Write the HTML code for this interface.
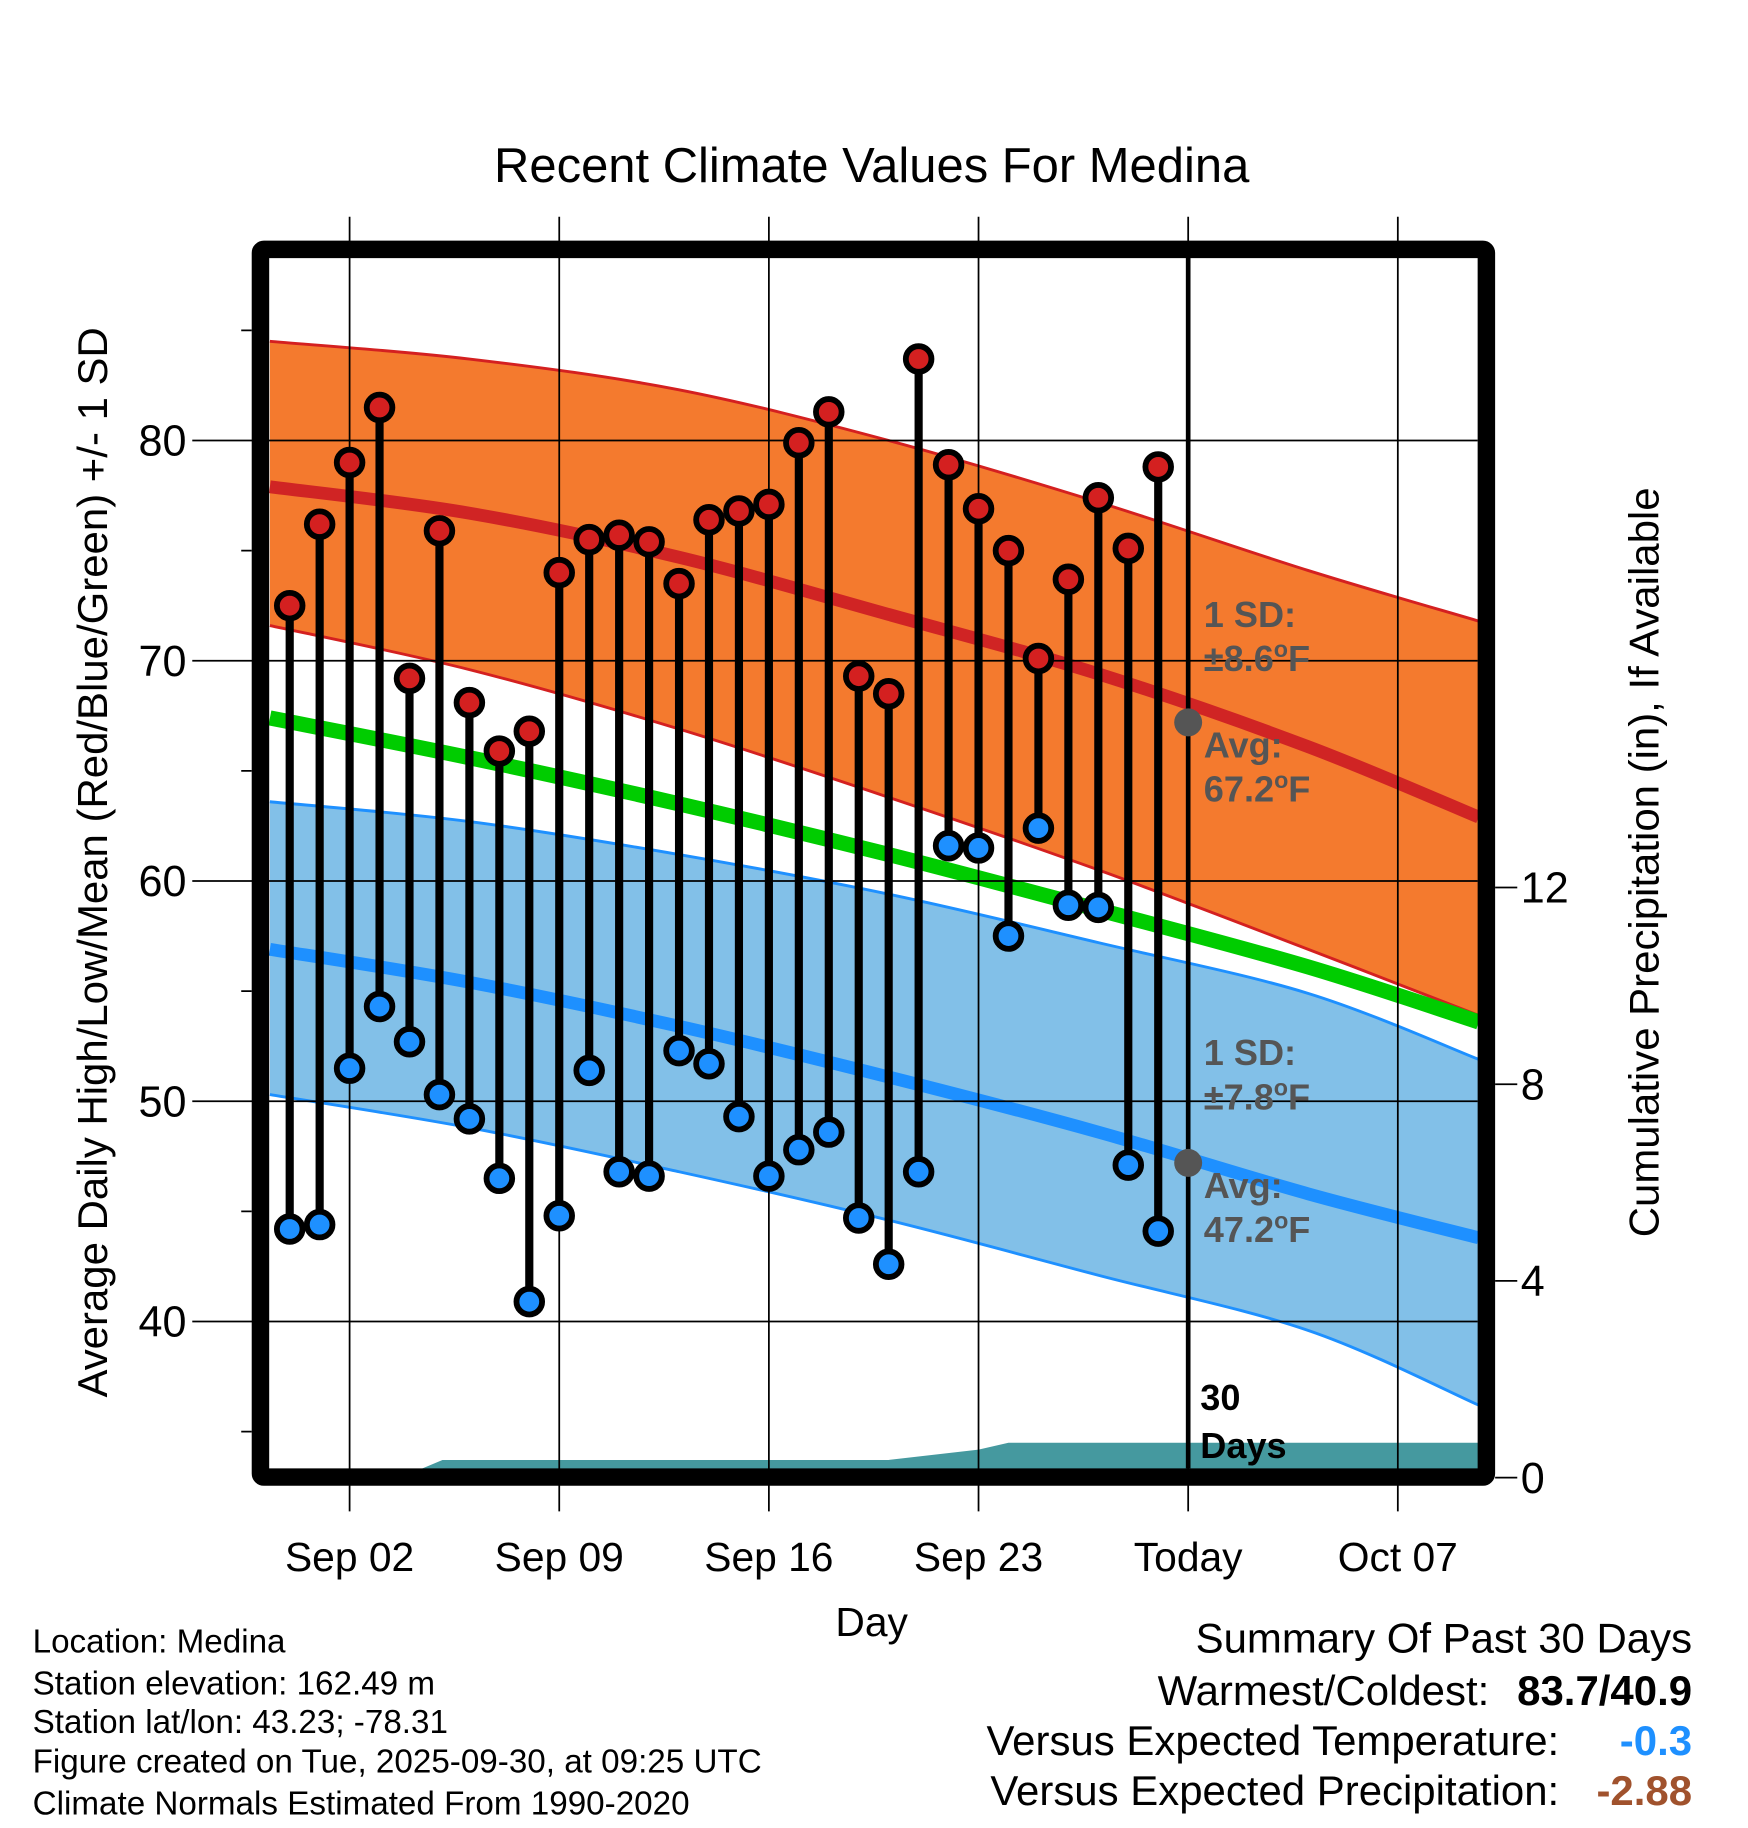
<!DOCTYPE html>
<html><head><meta charset="utf-8"><style>
html,body{margin:0;padding:0;background:#fff;}
svg{display:block;font-family:"Liberation Sans",Arial,sans-serif;}
</style></head><body>
<svg id="chart" width="1748" height="1828" viewBox="0 0 1500 1568.65" xmlns="http://www.w3.org/2000/svg">
<text x="748" y="156" font-size="42" text-anchor="middle">Recent Climate Values For Medina</text>
<g id="bands"></g>
<g id="grid"></g>
<g id="marks"></g>
<g id="axes"></g>
</svg>
<script>
// ---- data ----
const obsDays = [-1,0,1,2,3,4,5,6,7,8,9,10,11,12,13,14,15,16,17,18,19,20,21,22,23,24,25,26,27,28];
const highs = [72.5,76.2,79.0,81.5,69.2,75.9,68.1,65.9,66.8,74.0,75.5,75.7,75.4,73.5,76.4,76.8,77.1,79.9,81.3,69.3,68.5,83.7,78.9,76.9,75.0,70.1,73.7,77.4,75.1,78.8];
const lows = [44.2,44.4,51.5,54.3,52.7,50.3,49.2,46.5,40.9,44.8,51.4,46.8,46.6,52.3,51.7,49.3,46.6,47.8,48.6,44.7,42.6,46.8,61.6,61.5,57.5,62.4,58.9,58.8,47.1,44.1];
const normDays = [-1.66,5,12,19,26,33,38.7];
const highUpper = [84.5,83.7,82.3,80.0,77.2,74.1,71.8];
const highAvg = [77.9,76.7,74.7,72.1,69.4,66.1,62.9];
const highLower = [71.6,69.6,66.9,63.8,60.5,56.9,53.9];
const meanAvg = [67.4,65.6,63.5,61.2,58.7,56.1,53.6];
const lowUpper = [63.6,62.7,61.2,59.4,57.2,54.9,51.9];
const lowAvg = [56.9,55.4,53.4,51.1,48.6,45.8,43.8];
const lowLower = [50.3,48.8,46.8,44.6,42.1,39.6,36.2];
const precipDays = [-1.66,2.7,4.1,19,22,23,38.7];
const precipVals = [0,0,0.36,0.36,0.57,0.71,0.71];
const xTickDays = [1,8,15,22,29,36];
const xTickLabels = ["Sep 02","Sep 09","Sep 16","Sep 23","Today","Oct 07"];
const yTicks = [40,50,60,70,80];
const yMinor = [35,45,55,65,75,85];
const pTicks = [0,4,8,12];
const todayDay = 29;
const todayHighAvg = 67.2, todayLowAvg = 47.2;

// ---- axes functions ----
const L=231,R=1268,T=221,B=1260;
const X = d => 300 + (d-1)*25.7;
const Y = t => 378 + (80-t)*18.9;
const P = p => 1268 - p*42.2;
const NS="http://www.w3.org/2000/svg";
function mk(tag, attrs, parent){const e=document.createElementNS(NS,tag);for(const k in attrs)e.setAttribute(k,attrs[k]);parent.appendChild(e);return e;}
const bands=document.getElementById('bands'),grid=document.getElementById('grid'),marks=document.getElementById('marks'),axes=document.getElementById('axes');
function P2(days,vals,f){return days.map((d,i)=>[X(d),f(vals[i])]);}
function smooth(p,start){
  let s=start?('M'+p[0][0].toFixed(1)+','+p[0][1].toFixed(1)):('L'+p[0][0].toFixed(1)+','+p[0][1].toFixed(1));
  for(let i=0;i<p.length-1;i++){
    const p0=p[i-1]||p[i],p1=p[i],p2=p[i+1],p3=p[i+2]||p2;
    const c1=[p1[0]+(p2[0]-p0[0])/6,p1[1]+(p2[1]-p0[1])/6],c2=[p2[0]-(p3[0]-p1[0])/6,p2[1]-(p3[1]-p1[1])/6];
    s+='C'+c1.map(v=>v.toFixed(1)).join(',')+' '+c2.map(v=>v.toFixed(1)).join(',')+' '+p2.map(v=>v.toFixed(1)).join(',');
  }
  return s;
}
function bandPath(up,lo){return smooth(P2(normDays,up,Y),true)+smooth(P2(normDays,lo,Y).reverse(),false)+'Z';}

let e;
e=mk('path',{d:bandPath(highUpper,highLower),fill:'#f47a2e',stroke:'none'},bands);


e=mk('path',{d:bandPath(lowUpper,lowLower),fill:'#82c0e8',stroke:'none'},bands);


[[highUpper,'#d42020',2.5,'high-upper-line'],[highLower,'#d42020',2.5,'high-lower-line'],[lowUpper,'#1e90ff',2.5,'low-upper-line'],[lowLower,'#1e90ff',2.5,'low-lower-line'],[highAvg,'#d02424',11,'high-avg-line'],[lowAvg,'#1e90ff',11,'low-avg-line'],[meanAvg,'#00cc00',13,'mean-avg-line']].forEach(a=>{
  const l=mk('path',{d:smooth(P2(normDays,a[0],Y),true),fill:'none',stroke:a[1],'stroke-width':a[2]},bands);
  
  
});
e=mk('path',{d:'M'+X(precipDays[0])+','+P(0)+'L'+P2(precipDays,precipVals,P).map(q=>q.join(',')).join('L')+'L'+X(precipDays[precipDays.length-1])+','+P(0)+'Z',fill:'#45999f'},bands);



xTickDays.forEach(d=>{
  const g=mk('line',{x1:X(d),x2:X(d),y1:186,y2:1297,stroke:'#000','stroke-width':1.5},grid);
  
  
});
yTicks.forEach(t=>{
  const g=mk('line',{x1:165,x2:1268,y1:Y(t),y2:Y(t),stroke:'#000','stroke-width':1.5},grid);
  
  
});
yMinor.forEach(t=>{
  const g=mk('line',{x1:207,x2:216,y1:Y(t),y2:Y(t),stroke:'#000','stroke-width':1.5},grid);
  
  
});
pTicks.forEach(p=>{
  const g=mk('line',{x1:1283,x2:1302,y1:P(p),y2:P(p),stroke:'#000','stroke-width':1.5},grid);
  
  
});

e=mk('line',{x1:X(todayDay),x2:X(todayDay),y1:T,y2:B,stroke:'#000','stroke-width':4},marks);



obsDays.forEach((d,i)=>{
  const s=mk('line',{x1:X(d),x2:X(d),y1:Y(highs[i]),y2:Y(lows[i]),stroke:'#000','stroke-width':7},marks);
  
  
});
obsDays.forEach((d,i)=>{
  const h=mk('circle',{cx:X(d),cy:Y(highs[i]),r:11,fill:'#d42020',stroke:'#000','stroke-width':5},marks);
  
  
  const lw=mk('circle',{cx:X(d),cy:Y(lows[i]),r:11,fill:'#1e90ff',stroke:'#000','stroke-width':5},marks);
  
  
});
e=mk('circle',{cx:X(todayDay),cy:Y(todayHighAvg),r:12,fill:'#555'},marks);


e=mk('circle',{cx:X(todayDay),cy:Y(todayLowAvg),r:12,fill:'#555'},marks);



e=mk('rect',{x:223.5,y:214,width:1052,height:1053.5,fill:'none',stroke:'#000','stroke-width':15,rx:3},axes);



function txt(s,attrs,name,parent){const t=mk('text',attrs,parent||axes);t.textContent=s;return t;}
yTicks.forEach(t=>txt(String(t),{x:160,y:Y(t)+13,'font-size':37,'text-anchor':'end'},'y-tick-label'));
pTicks.forEach(p=>txt(String(p),{x:1305,y:P(p)+13,'font-size':37},'precip-tick-label'));
xTickDays.forEach((d,i)=>txt(xTickLabels[i],{x:X(d),y:1348,'font-size':35,'text-anchor':'middle'},'x-tick-label'));
txt('Day',{x:748,y:1404,'font-size':35,'text-anchor':'middle'},'x-axis-title');
txt('Average Daily High/Low/Mean (Red/Blue/Green) +/- 1 SD',{x:0,y:0,'font-size':36,'text-anchor':'middle',transform:'translate(92,740) rotate(-90)'},'y-axis-title');
txt('Cumulative Precipitation (in), If Available',{x:0,y:0,'font-size':36,'text-anchor':'middle',transform:'translate(1423,740) rotate(-90)'},'precip-axis-title');

function annot(a,y,name){
  const t=mk('text',{x:1033,y:y,'font-size':31,'font-weight':'bold',fill:'#555'},marks);
  
  
  t.textContent=a;
  const s=mk('tspan',{'font-size':20,dy:-12},t);s.textContent='o';
  const f=mk('tspan',{dy:12},t);f.textContent='F';
}
txt('1 SD:',{x:1033,y:538,'font-size':31,'font-weight':'bold',fill:'#555'},'sd-annotation',marks);
annot('±8.6',576,'sd-annotation');
txt('Avg:',{x:1033,y:650,'font-size':31,'font-weight':'bold',fill:'#555'},'avg-annotation',marks);
annot('67.2',688,'avg-annotation');
txt('1 SD:',{x:1033,y:914,'font-size':31,'font-weight':'bold',fill:'#555'},'sd-annotation',marks);
annot('±7.8',952,'sd-annotation');
txt('Avg:',{x:1033,y:1028,'font-size':31,'font-weight':'bold',fill:'#555'},'avg-annotation',marks);
annot('47.2',1066,'avg-annotation');
txt('30',{x:1030,y:1210,'font-size':31,'font-weight':'bold'},'days-label',marks);
txt('Days',{x:1030,y:1251,'font-size':31,'font-weight':'bold'},'days-label',marks);

['Location: Medina','Station elevation: 162.49 m','Station lat/lon: 43.23; -78.31','Figure created on Tue, 2025-09-30, at 09:25 UTC','Climate Normals Estimated From 1990-2020'].forEach((s,i)=>txt(s,{x:28,y:[1418,1454,1487,1521,1557][i],'font-size':28.5},'station-info-line'));
txt('Summary Of Past 30 Days',{x:1452,y:1418,'font-size':36,'text-anchor':'end'},'summary-title');
txt('Warmest/Coldest:',{x:1278,y:1463,'font-size':36,'text-anchor':'end'},'warmest-coldest-label');
txt('83.7/40.9',{x:1452,y:1463,'font-size':36,'font-weight':'bold','text-anchor':'end'},'warmest-coldest-value');
txt('Versus Expected Temperature:',{x:1338,y:1506,'font-size':36,'text-anchor':'end'},'temp-departure-label');
txt('-0.3',{x:1452,y:1506,'font-size':36,'font-weight':'bold','text-anchor':'end',fill:'#1e90ff'},'temp-departure-value');
txt('Versus Expected Precipitation:',{x:1338,y:1549,'font-size':36,'text-anchor':'end'},'precip-departure-label');
txt('-2.88',{x:1452,y:1549,'font-size':36,'font-weight':'bold','text-anchor':'end',fill:'#a0522d'},'precip-departure-value');
</script>
</body></html>
